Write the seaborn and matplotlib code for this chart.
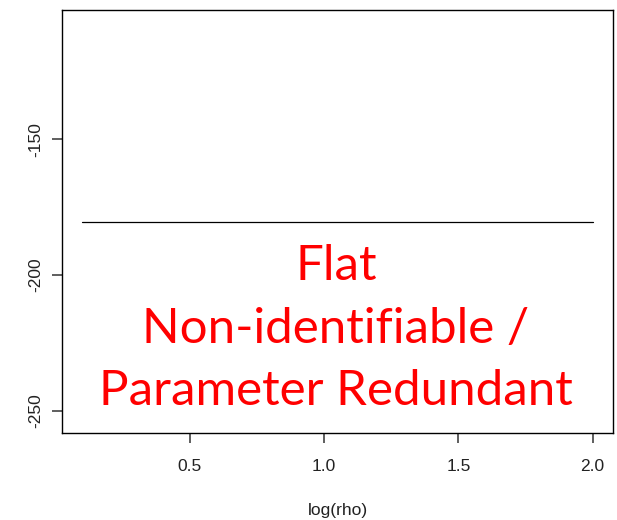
import numpy as np
import pandas as pd
import matplotlib
matplotlib.use("Agg")
import matplotlib.pyplot as plt
import seaborn as sns

# data
log_rho = [0.1, 0.5, 1.0, 1.5, 2.0]
loglik = [-180.3, -180.3, -180.3, -180.3, -180.3]
x_ticks = [0.5, 1.0, 1.5, 2.0]
x_tick_labels = ["0.5", "1.0", "1.5", "2.0"]
y_ticks = [-250, -200, -150]
y_tick_labels = ["-250", "-200", "-150"]
annotation_lines = ["Flat", "Non-identifiable /", "Parameter Redundant"]

sns.set_theme(style="white")
plt.rcParams['font.family'] = ['Liberation Sans', 'DejaVu Sans']

df = pd.DataFrame({"log(rho)": log_rho, "loglik": loglik})

fig = plt.figure(figsize=(6.17, 5.2), dpi=100)
ax = fig.add_axes([62/617, 87/520, (613-62)/617, (433-10)/520])
sns.lineplot(data=df, x="log(rho)", y="loglik", ax=ax, color="black", linewidth=0.9)

# R-style limits: constant data expanded by 40%, then 4%
y0 = loglik[0]
lo, hi = y0 - 0.4*abs(y0), y0 + 0.4*abs(y0)
ext = (hi - lo) * 0.04
ax.set_ylim(lo - ext, hi + ext)
xr = max(log_rho) - min(log_rho)
ax.set_xlim(min(log_rho) - 0.04*xr, max(log_rho) + 0.04*xr)

fs = 12.5
ax.set_xticks(x_ticks)
ax.set_xticklabels(x_tick_labels, fontsize=fs)
ax.set_yticks(y_ticks)
ax.set_yticklabels(y_tick_labels, fontsize=fs, rotation=90, va="center")
ax.tick_params(axis="both", direction="out", length=7.5, width=1.1, color="#333333",
               labelcolor="#222222", bottom=True, left=True)
ax.tick_params(axis="x", pad=11.5)
ax.tick_params(axis="y", pad=6)
ax.set_xlabel("log(rho)", fontsize=fs, labelpad=20.5, color="#222222")
ax.set_ylabel("")
for s in ax.spines.values():
    s.set_color("black")
    s.set_linewidth(1.0)
ax.set_facecolor("white")

baselines = [280, 343, 405]
for txt, b in zip(annotation_lines, baselines):
    fig.text(336/617, 1 - b/520, txt, ha="center", va="baseline", color="#FF0000",
             fontsize=35.5, family=["Lato", "DejaVu Sans"])

fig.savefig("out.png", dpi=100, facecolor="white")
